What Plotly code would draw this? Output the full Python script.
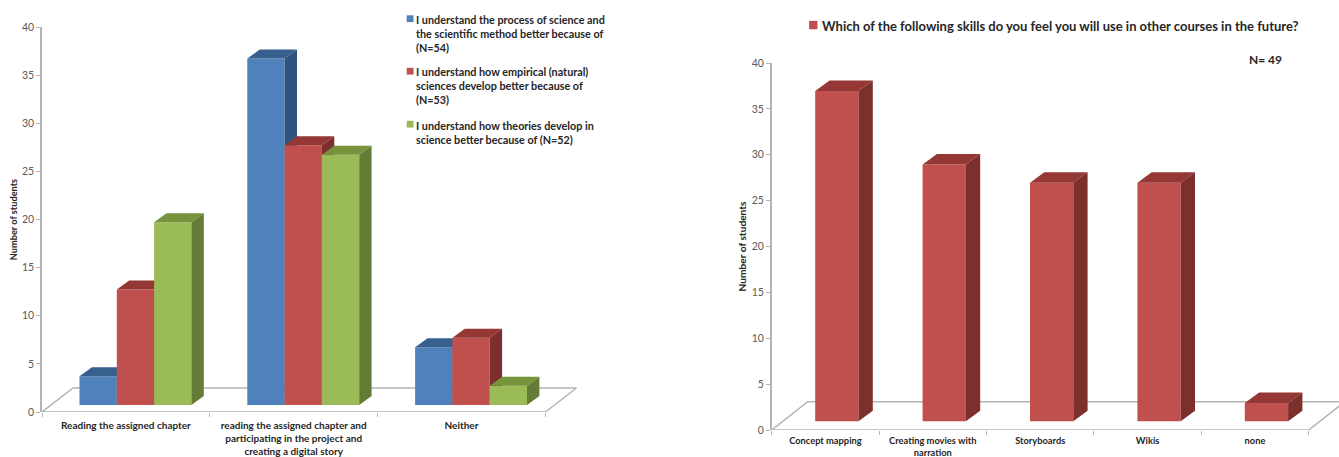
import plotly.graph_objects as go

WIDTH, HEIGHT = 1339, 457

# Chart 1: understanding of science, by activity
activity_labels = [
    "Reading the assigned chapter",
    "reading the assigned chapter and<br>participating in the project and<br>creating a digital story",
    "Neither",
]
process_values = [3, 36, 6]
empirical_values = [12, 27, 7]
theories_values = [19, 26, 2]
process_name = "I understand the process of science and<br>the scientific method better because of<br>(N=54)"
empirical_name = "I understand how empirical (natural)<br>sciences develop better because of<br>(N=53)"
theories_name = "I understand how theories develop in<br>science better because of (N=52)"

# Chart 2: skills students expect to reuse
skill_labels = ["Concept mapping", "Creating movies with<br>narration", "Storyboards", "Wikis", "none"]
skill_values = [36, 28, 26, 26, 2]
skill_name = "Which of the following skills do you feel you will use in other courses in the future?"
skill_note = "N= 49"

y_ticks = [0, 5, 10, 15, 20, 25, 30, 35, 40]

BLUE = ("#4F81BD", "#37608F", "#2F5480")
RED = ("#C0504D", "#953735", "#7D2F2D")
GREEN = ("#9BBB59", "#77933C", "#647C36")
FONT = "Lato"
AXIS_GREY = "#B4B4B4"
TICK_TEXT = "#595959"
LABEL_TEXT = "#262626"


def box_faces(lefts, values, width, lift, dx, dy):
    """Side and top parallelograms of the extruded columns, in axis units."""
    side_x, side_y, top_x, top_y = [], [], [], []
    for left, value in zip(lefts, values):
        right = left + width
        low, high = lift, lift + value
        side_x += [right, right + dx, right + dx, right, right, None]
        side_y += [low, low + dy, high + dy, high, low, None]
        top_x += [left, left + dx, right + dx, right, left, None]
        top_y += [high, high + dy, high + dy, high, high, None]
    return side_x, side_y, top_x, top_y


def add_columns(fig, axis_suffix, name, colours, lefts, values, width, lift, dx, dy):
    xa, ya = f"x{axis_suffix}", f"y{axis_suffix}"
    fig.add_trace(go.Bar(
        x=[left + width / 2 for left in lefts], y=values, base=lift, width=width, name=name,
        marker=dict(color=colours[0], line=dict(width=0)), showlegend=False, xaxis=xa, yaxis=ya))
    side_x, side_y, top_x, top_y = box_faces(lefts, values, width, lift, dx, dy)
    for fx, fy, colour in ((top_x, top_y, colours[1]), (side_x, side_y, colours[2])):
        fig.add_trace(go.Scatter(
            x=fx, y=fy, mode="lines", fill="toself", fillcolor=colour, line=dict(width=0),
            hoverinfo="skip", showlegend=False, xaxis=xa, yaxis=ya))


def add_floor(fig, axis_suffix, n_cats, dx, dy):
    fig.add_trace(go.Scatter(
        x=[0, dx, n_cats + dx, n_cats, 0], y=[0, dy, dy, 0, 0], mode="lines",
        line=dict(color=AXIS_GREY, width=1.5), hoverinfo="skip", showlegend=False,
        xaxis=f"x{axis_suffix}", yaxis=f"y{axis_suffix}"))


def base_axes(labels, x_range, domain_x, domain_y, label_size, standoff, title_standoff, title_size):
    n = len(labels)
    xaxis = dict(
        domain=domain_x, range=x_range, showgrid=False, zeroline=False, showline=False, automargin=False,
        tickmode="array", tickvals=[i + 0.5 for i in range(n)], ticktext=labels, ticks="",
        ticklabelstandoff=standoff, tickangle=0,
        tickfont=dict(family=FONT, size=label_size, color=LABEL_TEXT, weight=700),
        minor=dict(tickmode="array", tickvals=list(range(n + 1)), ticks="outside",
                   ticklen=4, tickwidth=1, tickcolor=AXIS_GREY, showgrid=False))
    yaxis = dict(
        domain=domain_y, range=[0, 40], showgrid=False, zeroline=False, showline=True, automargin=False,
        linecolor=AXIS_GREY, linewidth=1.5, ticks="outside", ticklen=4, tickwidth=1,
        tickcolor=AXIS_GREY, tickmode="array", tickvals=y_ticks,
        tickfont=dict(family=FONT, size=10.5, color=TICK_TEXT),
        title=dict(text="Number of students", standoff=title_standoff,
                   font=dict(family=FONT, size=title_size, color=LABEL_TEXT, weight=700)))
    return xaxis, yaxis


def hidden_axes(parent_x, parent_y, x_range, domain_x, domain_y, suffix):
    xaxis = dict(domain=domain_x, range=x_range, visible=False, automargin=False,
                 overlaying=parent_x, anchor=f"y{suffix}")
    yaxis = dict(domain=domain_y, range=[0, 40], visible=False, automargin=False,
                 overlaying=parent_y, anchor=f"x{suffix}")
    return xaxis, yaxis


fig = go.Figure()
layout = {}

# Left chart frame
L_X0, L_CAT, L_RIGHT = 42.0, 167.8, 590.0
L_Y0, L_Y40 = 412.0, 27.0
l_unit = (L_Y0 - L_Y40) / 40
l_domain_x = [L_X0 / WIDTH, L_RIGHT / WIDTH]
l_domain_y = [1 - L_Y0 / HEIGHT, 1 - L_Y40 / HEIGHT]
l_range = [0, (L_RIGHT - L_X0) / L_CAT]
l_lift = 7 / l_unit
l_dx, l_dy = 12.4 / L_CAT, 9 / l_unit
l_w = 37.3 / L_CAT

# Right chart frame
R_X0, R_CAT = 771.7, 107.4
R_Y0, R_Y40 = 430.0, 63.0
r_unit = (R_Y0 - R_Y40) / 40
r_domain_x = [R_X0 / WIDTH, 1.0]
r_domain_y = [1 - R_Y0 / HEIGHT, 1 - R_Y40 / HEIGHT]
r_range = [0, (WIDTH - R_X0) / R_CAT]
r_lift = 8.7 / r_unit
r_dx, r_dy = 14.3 / R_CAT, 10.5 / r_unit
r_w = 43.3 / R_CAT

layout["xaxis"], layout["yaxis"] = base_axes(activity_labels, l_range, l_domain_x, l_domain_y, 10, 6, 3, 9.2)
layout["yaxis"]["anchor"] = "x"
layout["xaxis"]["anchor"] = "y"
add_floor(fig, "", 3, 31 / L_CAT, 24 / l_unit)

# Each series gets its own overlaid axis pair so later columns paint over earlier ones.
series = [(process_name, BLUE, process_values), (empirical_name, RED, empirical_values),
          (theories_name, GREEN, theories_values)]
for s, (name, colours, values) in enumerate(series):
    suffix = s + 2
    layout[f"xaxis{suffix}"], layout[f"yaxis{suffix}"] = hidden_axes("x", "y", l_range, l_domain_x, l_domain_y, suffix)
    lefts = [i + 0.2235 + s * l_w for i in range(len(values))]
    add_columns(fig, suffix, name, colours, lefts, values, l_w, l_lift, l_dx, l_dy)

layout["xaxis5"], layout["yaxis5"] = base_axes(skill_labels, r_range, r_domain_x, r_domain_y, 9.3, 4, 3, 10.2)
layout["xaxis5"]["anchor"] = "y5"
layout["yaxis5"]["anchor"] = "x5"
add_floor(fig, "5", 5, 36 / R_CAT, 28.3 / r_unit)

layout["xaxis6"], layout["yaxis6"] = hidden_axes("x5", "y5", r_range, r_domain_x, r_domain_y, 6)
skill_lefts = [i + 0.405 for i in range(len(skill_values))]
add_columns(fig, 6, skill_name, RED, skill_lefts, skill_values, r_w, r_lift, r_dx, r_dy)

# Hand-placed legends: small colour key beside wrapped, left-aligned text
annotations, shapes = [], []


def key_entry(text, text_x, text_y, swatch, size, key_size, gap):
    annotations.append(dict(
        text=text, x=text_x / WIDTH, y=1 - text_y / HEIGHT, xref="paper", yref="paper",
        xanchor="left", yanchor="top", align="left", showarrow=False, borderpad=0,
        font=dict(family=FONT, size=size, color=LABEL_TEXT, weight=700)))
    centre = text_y + size * 0.62
    shapes.append(dict(
        type="rect", xref="paper", yref="paper", line=dict(width=0), fillcolor=swatch,
        x0=(text_x - gap - key_size) / WIDTH, x1=(text_x - gap) / WIDTH,
        y0=1 - (centre - key_size / 2) / HEIGHT, y1=1 - (centre + key_size / 2) / HEIGHT))


key_entry(process_name, 415, 12, BLUE[0], 10.8, 6.8, 1.5)
key_entry(empirical_name, 415, 64.5, RED[0], 10.8, 6.8, 1.5)
key_entry(theories_name, 415, 117.5, GREEN[0], 10.8, 6.8, 1.5)
key_entry(skill_name, 820.5, 17, RED[0], 13, 8.4, 3)
annotations.append(dict(
    text=skill_note, x=1247.5 / WIDTH, y=1 - 51 / HEIGHT, xref="paper", yref="paper",
    xanchor="left", yanchor="top", showarrow=False, borderpad=0,
    font=dict(family=FONT, size=12, color=LABEL_TEXT, weight=700)))

fig.update_layout(
    width=WIDTH, height=HEIGHT, margin=dict(l=0, r=0, t=0, b=0, autoexpand=False), autosize=False,
    paper_bgcolor="white", plot_bgcolor="white", barmode="overlay", showlegend=False,
    annotations=annotations, shapes=shapes, **layout)

fig.write_html("out.html")
